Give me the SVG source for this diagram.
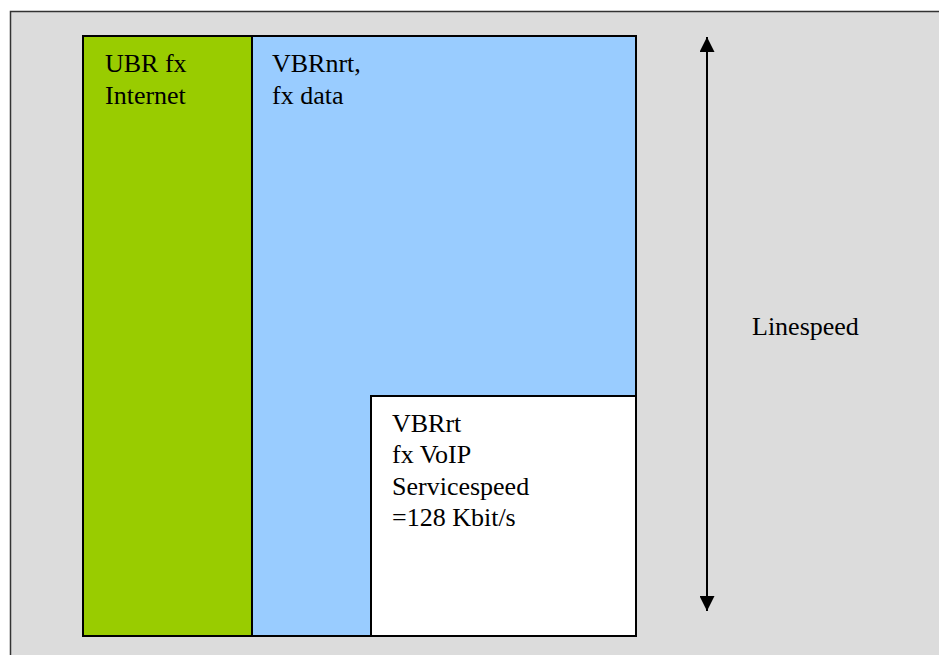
<svg xmlns="http://www.w3.org/2000/svg" width="939" height="655" viewBox="0 0 939 655">
<style>
.t{font-family:"Liberation Serif","Times New Roman",serif;font-size:26px;fill:#000}
.b{stroke:#000;stroke-width:2}
</style>
<defs>
<marker id="ah" viewBox="0 0 16 15" refX="15" refY="7.5" markerWidth="16" markerHeight="15" markerUnits="userSpaceOnUse" orient="auto-start-reverse">
<path d="M0,0 L15,7.5 L0,15 Z" fill="#000"/>
</marker>
</defs>
<rect x="0" y="0" width="939" height="655" fill="#fff"/>
<rect id="frame" x="10.5" y="11.5" width="940" height="660" fill="#dcdcdc" stroke="#333" stroke-width="1.5"/>
<g id="ubr">
<rect x="83" y="36" width="169" height="600" fill="#99cc00" class="b"/>
<text class="t" x="105" y="72">UBR fx</text>
<text class="t" x="105" y="103.5">Internet</text>
</g>
<g id="vbrnrt">
<path d="M252,36 H636 V396 H371 V636 H252 Z" fill="#99ccff" class="b"/>
<text class="t" x="272" y="72">VBRnrt,</text>
<text class="t" x="272" y="103.5">fx data</text>
</g>
<g id="vbrrt">
<rect x="371" y="396" width="265" height="240" fill="#fff" class="b"/>
<text class="t" x="392" y="431.5">VBRrt</text>
<text class="t" x="392" y="463">fx VoIP</text>
<text class="t" x="392" y="494.5">Servicespeed</text>
<text class="t" x="392" y="526">=128 Kbit/s</text>
</g>
<g id="connectors">
<line x1="707" y1="37" x2="707" y2="611" stroke="#000" stroke-width="2" marker-start="url(#ah)" marker-end="url(#ah)"/>
</g>
<g id="linespeed">
<text class="t" x="752" y="335">Linespeed</text>
</g>
</svg>
